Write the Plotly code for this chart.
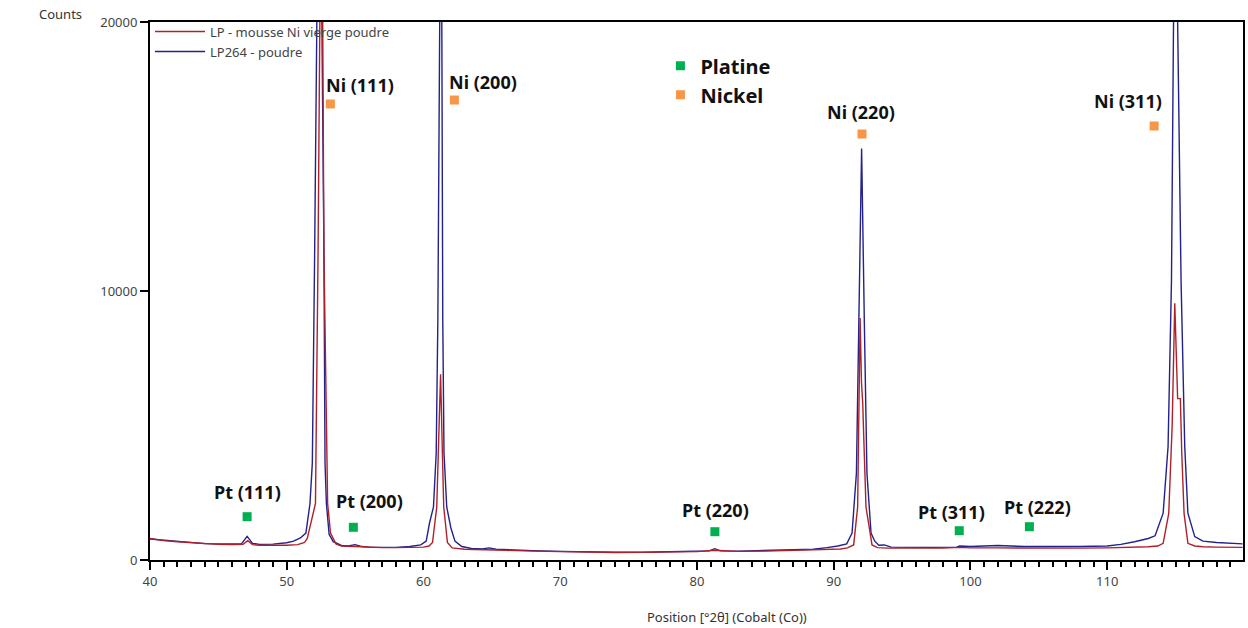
import plotly.graph_objects as go

# ---------------- data ----------------
# LP264 - poudre (blue)
blue_angle = [40.0, 41.0, 42.0, 43.0, 44.0, 45.0, 46.0, 46.7, 47.1, 47.5, 48.0, 49.0, 50.0, 50.5,
              51.0, 51.4, 51.7, 51.87, 52.04, 52.16, 52.35, 52.57, 52.72, 52.8, 52.9, 53.1, 53.4,
              54.0, 54.5, 55.0, 55.5, 56.0, 57.0, 58.0, 59.0, 59.8, 60.2, 60.44, 60.73, 60.93,
              61.05, 61.17, 61.26, 61.34, 61.41, 61.5, 61.7, 62.0, 62.3, 62.8, 63.5, 64.3, 64.8,
              65.3, 66.0, 68.0, 70.0, 72.0, 74.0, 76.0, 78.0, 80.0, 80.9, 81.3, 81.7, 83.0, 85.0,
              87.0, 88.5, 89.5, 90.3, 90.95, 91.34, 91.66, 91.85, 92.04, 92.24, 92.43, 92.73,
              93.0, 93.3, 93.7, 94.2, 95.0, 97.0, 99.0, 99.2, 100.0, 101.5, 102.0, 104.0, 106.0,
              108.0, 110.0, 111.0, 112.0, 113.0, 113.5, 114.09, 114.45, 114.7, 114.85, 115.0,
              115.15, 115.4, 115.67, 115.9, 116.4, 117.0, 118.0, 119.0, 119.9]
blue_counts = [780, 740, 700, 660, 610, 600, 590, 610, 880, 620, 580, 590, 640, 700,
               820, 1000, 2100, 3600, 11400, 20000, 28000, 20000, 11400, 3600, 2100, 950, 680,
               540, 520, 570, 500, 480, 470, 470, 500, 560, 700, 1375, 1970, 3980,
               8920, 20000, 26000, 20000, 8920, 3980, 1970, 1200, 700, 500, 430, 410, 450,
               400, 380, 350, 320, 300, 290, 290, 300, 320, 340, 420, 340, 330, 350,
               370, 400, 460, 520, 600, 1000, 3230, 8800, 15300, 8800, 3230, 1000,
               700, 550, 560, 480, 470, 470, 480, 520, 500, 510, 540, 500, 490,
               500, 520, 580, 680, 800, 900, 1740, 4210, 10400, 20000, 28000,
               20000, 10400, 4210, 1740, 870, 700, 650, 620, 600]

# LP - mousse Ni vierge poudre (red)
red_angle = [40.0, 41.0, 42.0, 43.0, 44.0, 45.0, 46.0, 46.8, 47.15, 47.5, 48.0, 49.0, 50.0, 50.8,
             51.3, 51.5, 51.8, 52.1, 52.29, 52.34, 52.48, 52.63, 52.72, 52.99, 53.2, 53.6,
             54.0, 55.0, 56.0, 57.0, 58.0, 59.0, 60.0, 60.4, 60.66, 60.97, 61.12, 61.25, 61.38,
             61.48, 61.75, 62.1, 63.0, 64.0, 65.0, 66.0, 68.0, 70.0, 72.0, 74.0, 76.0, 78.0,
             80.0, 81.3, 83.0, 85.0, 87.0, 89.0, 90.5, 91.0, 91.46, 91.75, 91.85, 91.93, 92.03,
             92.12, 92.2, 92.36, 92.8, 93.2, 94.0, 96.0, 98.0, 99.2, 100.0, 102.0, 104.0, 106.0,
             108.0, 110.0, 112.0, 113.0, 113.7, 114.09, 114.5, 114.75, 114.94, 115.08, 115.15,
             115.35, 115.45, 115.62, 115.9, 116.4, 117.0, 118.0, 119.9]
red_counts = [800, 720, 680, 640, 600, 580, 570, 580, 720, 570, 550, 540, 550, 570,
              650, 800, 1500, 2100, 11400, 20000, 24000, 20000, 11400, 2100, 1000, 600,
              520, 500, 470, 460, 460, 470, 480, 520, 650, 1970, 4500, 6900, 4000,
              1970, 650, 450, 400, 380, 370, 360, 330, 310, 290, 280, 285, 300,
              310, 360, 320, 330, 350, 380, 410, 450, 560, 1970, 5000, 9000, 6600,
              5840, 4500, 1970, 560, 460, 440, 430, 440, 470, 450, 450, 440, 430,
              440, 450, 470, 490, 520, 620, 1735, 5000, 9540, 7000, 6000,
              6000, 4000, 1735, 620, 520, 490, 480, 470]

pt_labels = ["Pt (111)", "Pt (200)", "Pt (220)", "Pt (311)", "Pt (222)"]
pt_angle = [47.10, 54.87, 81.31, 99.18, 104.31]
pt_counts = [1610, 1216, 1052, 1089, 1238]

ni_labels = ["Ni (111)", "Ni (200)", "Ni (220)", "Ni (311)"]
ni_angle = [53.19, 62.26, 92.07, 113.43]
ni_counts = [16952, 17100, 15836, 16134]

x_ticks = [40, 50, 60, 70, 80, 90, 100, 110]
y_ticks = [0, 10000, 20000]

# ---------------- styling ----------------
FONT = "Noto Sans"
RED = "#B0202A"
BLUE = "#22228C"
GREEN = "#00B050"
ORANGE = "#F79646"

pt_shift = [(0, 25), (16, 26), (1, 22), (-8, 19), (8, 20)]
ni_shift = [(30, 19), (29, 18), (-1, 22), (-26, 25)]

fig = go.Figure()
fig.add_trace(go.Scatter(x=blue_angle, y=blue_counts, mode="lines", name="LP264 - poudre",
                         line=dict(color=BLUE, width=1.4), legend="legend"))
fig.add_trace(go.Scatter(x=red_angle, y=red_counts, mode="lines", name="LP - mousse Ni vierge poudre",
                         line=dict(color=RED, width=1.4), legend="legend"))
fig.add_trace(go.Scatter(x=pt_angle, y=pt_counts, mode="markers", name="Platine",
                         marker=dict(symbol="square", size=9, color=GREEN), legend="legend2"))
fig.add_trace(go.Scatter(x=ni_angle, y=ni_counts, mode="markers", name="Nickel",
                         marker=dict(symbol="square", size=9, color=ORANGE), legend="legend2"))

for lab, xa, ya, (dx, dy) in zip(pt_labels, pt_angle, pt_counts, pt_shift):
    fig.add_annotation(x=xa, y=ya, text="<b>%s</b>" % lab, showarrow=False,
                       xshift=dx, yshift=dy, font=dict(family=FONT, size=18, color="#111"))
for lab, xa, ya, (dx, dy) in zip(ni_labels, ni_angle, ni_counts, ni_shift):
    fig.add_annotation(x=xa, y=ya, text="<b>%s</b>" % lab, showarrow=False,
                       xshift=dx, yshift=dy, font=dict(family=FONT, size=18, color="#111"))

fig.add_annotation(x=-0.103, y=1.015, xref="paper", yref="paper", xanchor="left", yanchor="middle",
                   text="Counts", showarrow=False, font=dict(family=FONT, size=13, color="#333"))
fig.add_annotation(x=0.528, y=-0.106, xref="paper", yref="paper", xanchor="center", yanchor="middle",
                   text="Position [°2θ] (Cobalt (Co))", showarrow=False,
                   font=dict(family=FONT, size=13, color="#333"))

fig.update_layout(
    width=1248, height=628,
    margin=dict(l=150, r=3, t=22, b=68),
    paper_bgcolor="white", plot_bgcolor="white",
    font=dict(family=FONT, size=13, color="#333"),
    showlegend=True,
    legend=dict(x=0, y=1.01, xanchor="left", yanchor="top", traceorder="reversed",
                bgcolor="rgba(0,0,0,0)", font=dict(family=FONT, size=13, color="#444"),
                itemwidth=50, tracegroupgap=0),
    legend2=dict(x=0.467, y=0.955, xanchor="left", yanchor="top",
                 bgcolor="rgba(0,0,0,0)", font=dict(family=FONT, size=20, color="#111", weight="bold"),
                 itemwidth=30),
    xaxis=dict(range=[40, 119.93], tickvals=x_ticks, ticks="outside", ticklen=8, tickwidth=1.5,
               tickcolor="black", showline=True, linecolor="black", linewidth=2, mirror=True,
               showgrid=False, zeroline=False, tickfont=dict(size=13, color="#444"),
               minor=dict(dtick=1, ticks="outside", ticklen=5, tickcolor="black", tickwidth=1.5,
                          showgrid=False)),
    yaxis=dict(range=[0, 20000], tickvals=y_ticks, tickformat="d", ticks="outside", ticklen=8,
               tickwidth=1.5, tickcolor="black", showline=True, linecolor="black", linewidth=2,
               mirror=True, showgrid=False, zeroline=False, tickfont=dict(size=13, color="#444")),
)

fig.write_html("out.html", config={"displayModeBar": False},
               post_script="document.body.style.margin='0';document.body.style.overflow='hidden';")
